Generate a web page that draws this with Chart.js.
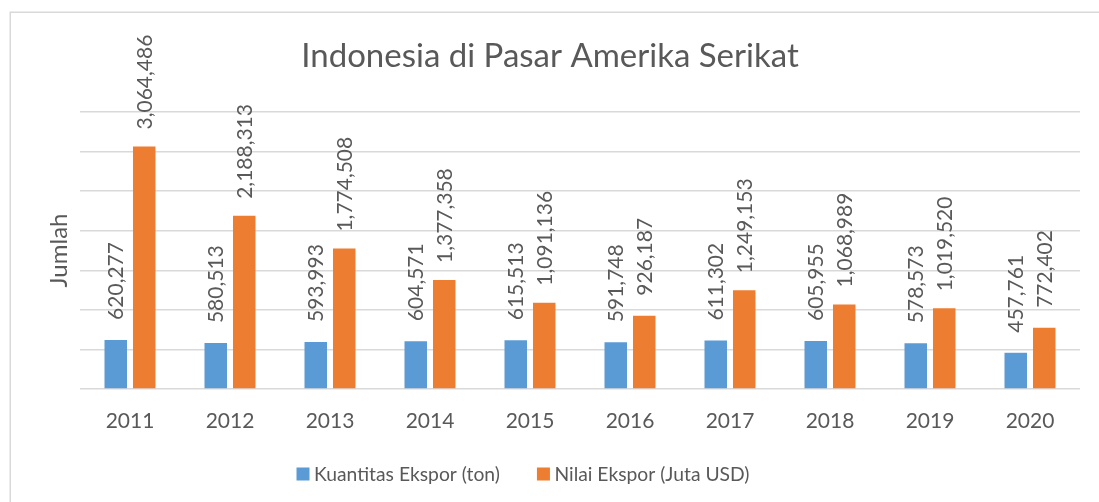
<!DOCTYPE html>
<html>
<head>
<meta charset="utf-8">
<script src="https://cdn.jsdelivr.net/npm/chart.js@4.4.1/dist/chart.umd.min.js"></script>
<style>
  html, body { margin: 0; padding: 0; background: #ffffff; }
  #wrap { position: relative; width: 1099px; height: 502px; }
  canvas { display: block; }
</style>
</head>
<body>
<div id="wrap"><canvas id="c" width="1099" height="502"></canvas></div>
<script>
const categories = ['2011', '2012', '2013', '2014', '2015', '2016', '2017', '2018', '2019', '2020'];
const kuantitas = [620277, 580513, 593993, 604571, 615513, 591748, 611302, 605955, 578573, 457761];
const nilai = [3064486, 2188313, 1774508, 1377358, 1091136, 926187, 1249153, 1068989, 1019520, 772402];
const seriesNames = ['Kuantitas Ekspor (ton)', 'Nilai Ekspor (Juta USD)'];
const yMax = 3500000;
const yStep = 500000;

const FONT = 'Lato';
const TEXT = '#595959';

const fmt = v => v.toLocaleString('en-US');

const framePlugin = {
  id: 'frame',
  beforeDraw(chart) {
    const ctx = chart.ctx;
    ctx.save();
    ctx.fillStyle = '#ffffff';
    ctx.fillRect(0, 0, chart.width, chart.height);
    ctx.strokeStyle = '#d9d9d9';
    ctx.lineWidth = 1.5;
    ctx.strokeRect(10.25, 12.25, chart.width + 20, chart.height + 20);
    ctx.restore();
  }
};

const labelPlugin = {
  id: 'barLabels',
  afterDatasetsDraw(chart) {
    const ctx = chart.ctx;
    const size = 21;
    ctx.save();
    ctx.font = size + 'px ' + FONT;
    ctx.fillStyle = TEXT;
    ctx.textAlign = 'left';
    ctx.textBaseline = 'alphabetic';
    chart.data.datasets.forEach((ds, i) => {
      const meta = chart.getDatasetMeta(i);
      meta.data.forEach((el, j) => {
        const txt = fmt(ds.data[j]);
        const gap = 17 + (9 - txt.length) * 1.5;
        ctx.save();
        ctx.translate(el.x, el.y - gap);
        ctx.rotate(-Math.PI / 2);
        ctx.fillText(txt, 0, size * 0.36);
        ctx.restore();
      });
    });
    ctx.restore();
  }
};

const legendPlugin = {
  id: 'customLegend',
  afterDraw(chart) {
    const ctx = chart.ctx;
    const size = 19.3;
    const box = 13, boxGap = 4.5, itemGap = 37;
    const centerX = 523, boxTop = 467.5;
    ctx.save();
    ctx.font = size + 'px ' + FONT;
    const items = chart.data.datasets.map(ds => ({ text: ds.label, color: ds.backgroundColor, w: ctx.measureText(ds.label).width }));
    let total = 0;
    items.forEach((it, k) => { total += box + boxGap + it.w + (k < items.length - 1 ? itemGap : 0); });
    let x = centerX - total / 2;
    ctx.textBaseline = 'alphabetic';
    ctx.textAlign = 'left';
    items.forEach(it => {
      ctx.fillStyle = it.color;
      ctx.fillRect(x, boxTop, box, box);
      x += box + boxGap;
      ctx.fillStyle = TEXT;
      ctx.fillText(it.text, x, boxTop + box);
      x += it.w + itemGap;
    });
    ctx.restore();
  }
};

new Chart(document.getElementById('c'), {
  type: 'bar',
  data: {
    labels: categories,
    datasets: [
      { label: seriesNames[0], data: kuantitas, backgroundColor: '#5B9BD5', categoryPercentage: 0.57, barPercentage: 0.79 },
      { label: seriesNames[1], data: nilai, backgroundColor: '#ED7D31', categoryPercentage: 0.57, barPercentage: 0.79 }
    ]
  },
  options: {
    responsive: false,
    animation: false,
    devicePixelRatio: 1,
    layout: { padding: { left: 20, right: 19, top: 0, bottom: 73 } },
    plugins: {
      legend: { display: false },
      tooltip: { enabled: false },
      title: {
        display: true,
        text: 'Indonesia di Pasar Amerika Serikat',
        color: TEXT,
        font: { family: FONT, size: 33, weight: 'normal' },
        padding: { top: 37, bottom: 35.4 }
      }
    },
    scales: {
      x: {
        grid: { display: false, drawTicks: false },
        border: { display: false },
        ticks: { color: TEXT, font: { family: FONT, size: 21 }, padding: 20 },
        afterFit(axis) { axis.height = 40; }
      },
      y: {
        min: 0, max: yMax,
        ticks: { display: false, stepSize: yStep },
        grid: { color: '#d9d9d9', lineWidth: 1.5, drawTicks: false },
        border: { display: false },
        title: { display: true, text: 'Jumlah', color: TEXT, font: { family: FONT, size: 24 }, padding: { top: 25, bottom: 0 } },
        afterFit(axis) { axis.width = 60; }
      }
    }
  },
  plugins: [framePlugin, labelPlugin, legendPlugin]
});
</script>
</body>
</html>
